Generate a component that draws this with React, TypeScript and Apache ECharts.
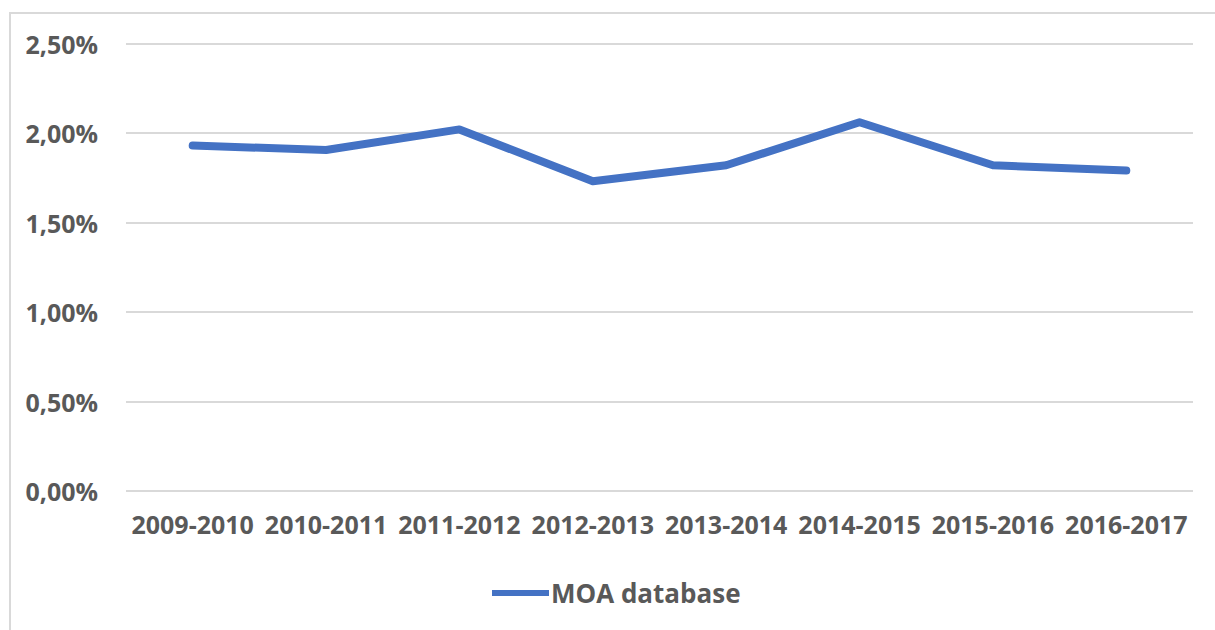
import React, { useEffect, useRef } from "react";
import * as echarts from "echarts";

const categories = [
  "2009-2010",
  "2010-2011",
  "2011-2012",
  "2012-2013",
  "2013-2014",
  "2014-2015",
  "2015-2016",
  "2016-2017",
];
const moaValues = [1.93, 1.905, 2.02, 1.73, 1.82, 2.06, 1.82, 1.79];
const seriesName = "MOA database";
const yMin = 0;
const yMax = 2.5;
const yInterval = 0.5;

const FONT = "'Open Sans', sans-serif";
const TEXT_COLOR = "#595959";

export default function App() {
  const ref = useRef<HTMLDivElement>(null);

  useEffect(() => {
    if (!ref.current) return;
    const chart = echarts.init(ref.current, undefined, { renderer: "svg" });
    chart.setOption({
      animation: false,
      backgroundColor: "#ffffff",
      graphic: [
        {
          type: "rect",
          shape: { x: 10, y: 13, width: 1230, height: 640 },
          style: { fill: "none", stroke: "#d9d9d9", lineWidth: 2 },
          silent: true,
          z: -10,
        },
      ],
      grid: { left: 126, right: 22, top: 43.5, bottom: 139, containLabel: false },
      legend: {
        data: [seriesName],
        left: 487,
        top: 575,
        icon: "rect",
        itemWidth: 57,
        itemHeight: 6,
        textStyle: {
          fontFamily: FONT,
          fontSize: 26,
          fontWeight: 700,
          color: TEXT_COLOR,
          padding: [0, 0, 0, -3],
        },
      },
      xAxis: {
        type: "category",
        data: categories,
        boundaryGap: true,
        axisLine: { show: false },
        axisTick: { show: false },
        axisLabel: {
          interval: 0,
          margin: 20,
          fontFamily: FONT,
          fontSize: 25,
          fontWeight: 700,
          color: TEXT_COLOR,
        },
      },
      yAxis: {
        type: "value",
        min: yMin,
        max: yMax,
        interval: yInterval,
        axisLine: { show: false },
        axisTick: { show: false },
        splitLine: { lineStyle: { color: "#d9d9d9", width: 2 } },
        axisLabel: {
          margin: 28,
          fontFamily: FONT,
          fontSize: 25,
          fontWeight: 700,
          color: TEXT_COLOR,
          formatter: (v: number) => v.toFixed(2).replace(".", ",") + "%",
        },
      },
      series: [
        {
          name: seriesName,
          type: "line",
          data: moaValues,
          symbol: "none",
          showSymbol: false,
          smooth: false,
          color: "#4472C4",
          lineStyle: { color: "#4472C4", width: 8, cap: "round", join: "round" },
        },
      ],
    });
    return () => chart.dispose();
  }, []);

  return (
    <div
      ref={ref}
      style={{ position: "fixed", left: 0, top: 0, width: 1215, height: 630 }}
    />
  );
}
